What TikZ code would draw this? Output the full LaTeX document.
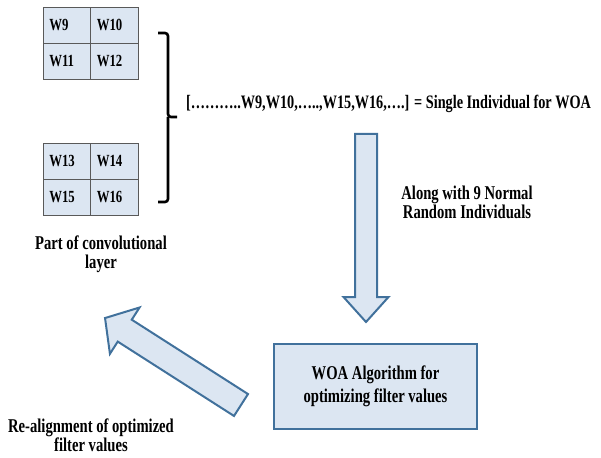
\documentclass[tikz,border=0pt]{standalone}
\usepackage{fontspec}
\setmainfont{Liberation Serif}[FakeStretch=0.75]
\usepackage{xcolor}
\usetikzlibrary{positioning}
\definecolor{cellfill}{HTML}{DCE6F2}
\definecolor{cellline}{HTML}{595959}
\definecolor{arrowline}{HTML}{41719C}
\newcommand{\cellfont}{\fontsize{17}{18}\selectfont\bfseries}
\newcommand{\lblfont}{\fontsize{19.5}{19}\selectfont\bfseries}
\tikzset{%
  cell/.style = {rectangle,draw=cellline,fill=cellfill,line width=0.8pt,
        minimum width=47.5pt,minimum height=36pt,inner xsep=6pt,
        text width=35.5pt,align=left,font=\cellfont,outer sep=0pt},
  lbl/.style = {font=\lblfont,align=center,inner sep=0pt},
  blockarrow/.style = {draw=arrowline,fill=cellfill,line width=2pt,
        line join=miter},
  algbox/.style = {rectangle,draw=arrowline,fill=cellfill,line width=2.5pt,
        minimum width=203pt,minimum height=85pt,align=center,
        font=\fontsize{19.5}{23}\selectfont\bfseries},
  bracket/.style = {draw=black,line width=2.6pt,rounded corners=3pt}
}
\begin{document}
\begin{tikzpicture}[x=1pt,y=-1pt]
                            \useasboundingbox (0,0) rectangle (601,457);
                            \node[cell] (w9) at (67,25) {W9};
                            \node[cell] (w10) [right=0pt of w9] {W10};
                            \node[cell] (w11) [below=0pt of w9] {W11};
                            \node[cell] (w12) [right=0pt of w11] {W12};
                            \node[cell] (w13) at (67,161) {W13};
                            \node[cell] (w14) [right=0pt of w13] {W14};
                            \node[cell] (w15) [below=0pt of w13] {W15};
                            \node[cell] (w16) [right=0pt of w15] {W16};
                            \node[lbl] (part) at (101,254) {Part of convolutional\\layer};
                            \coordinate (btop) at (158,33);
                            \coordinate (bmid) at (168,117);
                            \coordinate (btip) at (177,117);
                            \coordinate (bbot) at (158,202);
                            \draw[bracket] (btop) -- (btop -| bmid) -- (bmid) -- (btip);
                            \draw[bracket] (bmid) -- (bbot -| bmid) -- (bbot);
                            \node[lbl, anchor=west, font=\fontsize{19}{19}\selectfont\bfseries] (indiv) at (186,104) {[………..W9,W10,…..,W15,W16,….] = Single Individual for WOA};
                            \node[lbl] (along) at (467,202) {Along with 9 Normal\\Random Individuals};
                            \node[algbox] (woa) at (375.5,386.5) {WOA Algorithm for\\optimizing filter values};
                            \node[lbl] (realign) at (91,435) {Re-alignment of optimized\\filter values};
                            \begin{scope}[shift={(366,134)}]
                              \draw[blockarrow] (-11,0) -- (11,0) -- (11,163) -- (22.5,163) -- (0,188)
                                                -- (-22.5,163) -- (-11,163) -- cycle;
                            \end{scope}
                            \begin{scope}[shift={(241,405)},rotate=147.4]
                              \draw[blockarrow] (0,-13) -- (138,-13) -- (138,-27.5) -- (161.4,0)
                                                -- (138,27.5) -- (138,13) -- (0,13) -- cycle;
                            \end{scope}
                        \end{tikzpicture}
\end{document}
